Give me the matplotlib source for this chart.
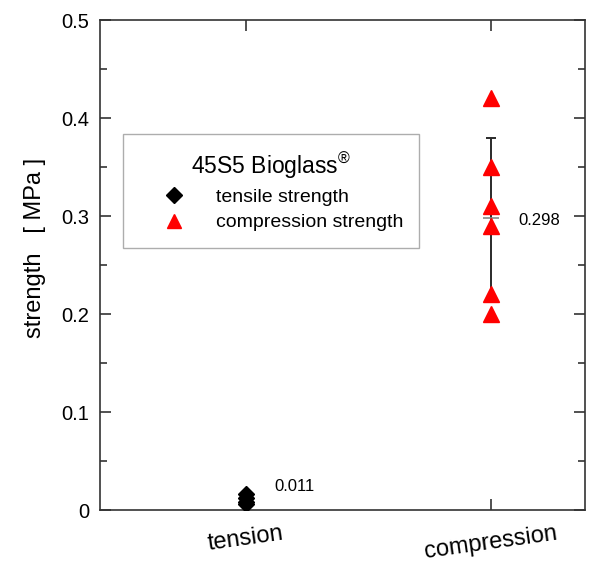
import matplotlib
matplotlib.use("Agg")
import matplotlib.pyplot as plt
import numpy as np
from matplotlib.lines import Line2D

plt.rcParams['font.family'] = ['Liberation Sans', 'DejaVu Sans']
plt.rcParams['mathtext.fontset'] = 'custom'
plt.rcParams['mathtext.rm'] = 'Liberation Sans'

categories = ["tension", "compression"]
tensile_values = [0.006, 0.008, 0.012, 0.016]
compression_values = [0.42, 0.35, 0.31, 0.29, 0.22, 0.20]
tensile_mean = 0.011
compression_mean = 0.298
compression_std = 0.082
y_ticks = [0, 0.1, 0.2, 0.3, 0.4, 0.5]
y_ticklabels = ["0", "0.1", "0.2", "0.3", "0.4", "0.5"]

fig = plt.figure(figsize=(5.9, 5.64), dpi=100)
ax = fig.add_axes([100/590, 54/564, 485/590, 490/564])

xpos = np.arange(1, len(categories) + 1)

# error bar for compression
ax.errorbar([xpos[1]], [compression_mean], yerr=[compression_std], fmt='none',
            ecolor='#2a2a2a', elinewidth=1.4, capsize=3.5, capthick=1.4, zorder=2)
ax.plot([xpos[1]], [compression_mean], marker='_', markersize=11.5, color='#888888',
        markeredgewidth=1.2, zorder=2)

ax.plot([xpos[0]] * len(tensile_values), tensile_values, linestyle='none', marker='D',
        markersize=8.5, color='black', zorder=3)
ax.plot([xpos[1]] * len(compression_values), compression_values, linestyle='none', marker='^',
        markersize=11.5, color='#ff0000', zorder=3)

ax.text(xpos[0] + 0.115, tensile_mean + 0.0125, f"{tensile_mean:.3f}", fontsize=12, ha='left', va='center')
ax.text(xpos[1] + 0.11, compression_mean - 0.003, f"{compression_mean:.3f}", fontsize=12, ha='left', va='center')

ax.set_xlim(0.404, 2.384)
ax.set_ylim(0, 0.5)
ax.set_yticks(y_ticks)
ax.set_yticklabels(y_ticklabels, fontsize=14.5)
ax.set_yticks(np.arange(0.05, 0.5, 0.1), minor=True)
ax.set_xticks(xpos)
ax.set_xticklabels(categories, fontsize=17, rotation=8)
ax.tick_params(axis='both', which='major', direction='in', length=8, width=1.2,
               top=True, right=True, color='#333333')
ax.tick_params(axis='y', which='minor', direction='in', length=5, width=1.2,
               right=True, color='#333333')
ax.tick_params(axis='x', which='major', pad=9)
ax.tick_params(axis='y', which='major', pad=8)
for s in ax.spines.values():
    s.set_color('#333333')
    s.set_linewidth(1.2)

ax.set_ylabel("strength   [ MPa ]", fontsize=17)
ax.yaxis.set_label_coords(-0.112, 0.535)

handles = [
    Line2D([], [], linestyle='none', marker='D', markersize=8, color='black'),
    Line2D([], [], linestyle='none', marker='^', markersize=10, color='#ff0000'),
]
leg = ax.legend(handles, ["tensile strength", "compression strength"],
                title="45S5 Bioglass$^{®}$", loc='upper left',
                bbox_to_anchor=(23/485, (510-134)/490), fontsize=14,
                title_fontsize=16.5, frameon=True, fancybox=False,
                handlelength=3.55, handletextpad=0.36, borderpad=0.85,
                labelspacing=0.4, borderaxespad=0)
leg.get_frame().set_edgecolor('#999999')
leg.get_frame().set_linewidth(1.0)

fig.savefig("out.png", dpi=100)
